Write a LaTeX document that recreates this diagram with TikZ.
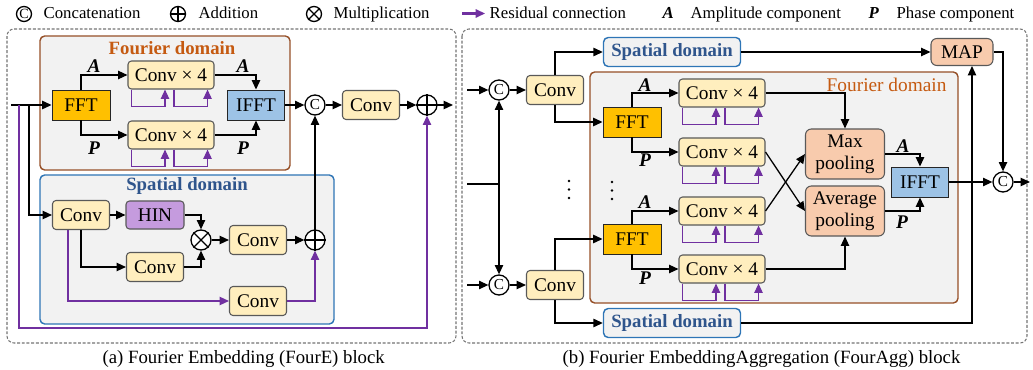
\documentclass[tikz,border=0pt]{standalone}
\usepackage{fontspec}
\setmainfont{Liberation Serif}
\usepackage{xcolor}
\usetikzlibrary{arrows.meta,positioning,calc}

\definecolor{convfill}{RGB}{255,238,190}
\definecolor{fftfill}{RGB}{255,192,0}
\definecolor{ifftfill}{RGB}{157,195,230}
\definecolor{hinfill}{RGB}{197,155,222}
\definecolor{poolfill}{RGB}{248,203,173}
\definecolor{domfill}{RGB}{242,242,242}
\definecolor{fourline}{RGB}{150,80,40}
\definecolor{fourtext}{RGB}{197,90,17}
\definecolor{spatline}{RGB}{46,117,182}
\definecolor{spattext}{RGB}{47,85,140}
\definecolor{resid}{RGB}{112,48,160}
\definecolor{boxline}{RGB}{89,89,89}

\newcommand{\compA}{\textbf{\textit{A}}}
\newcommand{\compP}{\textbf{\textit{P}}}

\begin{document}
\begin{tikzpicture}[x=0.03cm,y=-0.03cm,line width=1.1pt,
  font=\fontsize{16.5}{19}\selectfont,
  arr/.style={-{Stealth[length=2.8mm,width=2.5mm,inset=0pt]}},
  res/.style={arr,draw=resid},
  blk/.style={draw=boxline,rounded corners=3pt,inner sep=0pt,line width=0.9pt},
  conv/.style={blk,fill=convfill,minimum width=1.71cm,minimum height=0.87cm},
  convx/.style={blk,fill=convfill,minimum width=2.58cm,minimum height=0.84cm},
  hinbox/.style={blk,fill=hinfill,minimum width=1.74cm,minimum height=0.84cm},
  pool/.style={blk,fill=poolfill,rounded corners=5pt,align=center,minimum width=2.37cm,minimum height=1.5cm},
  fftbox/.style={draw=black!85,line width=0.8pt,fill=fftfill,inner sep=0pt,minimum width=1.74cm,minimum height=0.9cm},
  ifftbox/.style={fftbox,fill=ifftfill,minimum width=1.71cm},
  op/.style={draw,circle,fill=white,inner sep=0pt,minimum size=0.6cm,font=\fontsize{13}{13}\selectfont},
  lgop/.style={op,minimum size=0.45cm,font=\fontsize{12}{12}\selectfont},
  lgtxt/.style={anchor=base west,inner sep=0pt,font=\fontsize{14.3}{17}\selectfont},
  fdom/.style={draw=fourline,fill=domfill,line width=1.2pt,rounded corners=4pt},
  sdom/.style={draw=spatline,fill=domfill,line width=1.2pt,rounded corners=4pt},
  sdomnode/.style={sdom,inner sep=0pt,minimum width=4.11cm,minimum height=0.87cm,text=spattext,font=\fontsize{16}{19}\selectfont\bfseries},
  outer/.style={draw=black!55,dash pattern=on 2.5pt off 1.5pt,line width=0.9pt,rounded corners=6pt},
  comp/.style={inner sep=1pt}]
  \useasboundingbox (0,0) rectangle (1033,370);

  % legend
  \node[lgop] (lgC) at (24,14) {C};
  \node[lgtxt] (lgCt) at (43,18.5) {Concatenation};
  \node[lgop] (lgAdd) at (178,14) {};
  \draw (lgAdd.north) -- (lgAdd.south) (lgAdd.east) -- (lgAdd.west);
  \node[lgtxt] (lgAddt) at (198,18.5) {Addition};
  \node[lgop] (lgMul) at (314,14) {};
  \draw (lgMul.north east) -- (lgMul.south west) (lgMul.north west) -- (lgMul.south east);
  \node[lgtxt] (lgMult) at (333,18.5) {Multiplication};
  \coordinate (lgR0) at (462,13.5);
  \coordinate (lgR1) at (485,13.5);
  \draw[res,line width=1.8pt] (lgR0) -- (lgR1);
  \node[lgtxt] (lgRt) at (489,18.5) {Residual connection};
  \node[lgtxt] (lgA) at (662,18.5) {\compA};
  \node[lgtxt] (lgAt) at (690,18.5) {Amplitude component};
  \node[lgtxt] (lgP) at (868,18.5) {\compP};
  \node[lgtxt] (lgPt) at (896,18.5) {Phase component};

  \draw[outer] (7,29) rectangle (456,343);
  \draw[outer] (462,29) rectangle (1027,343);

  % (a) FourE block
  \draw[fdom] (40,36) rectangle (290,170);
  \node[text=fourtext,font=\fontsize{16}{19}\selectfont\bfseries] (fdA) at (172,48) {Fourier domain};
  \draw[sdom] (40,175) rectangle (334,324);
  \node[text=spattext,font=\fontsize{16}{19}\selectfont\bfseries] (sdA) at (187,186) {Spatial domain};

  \node[fftbox] (fftA) at (81,105) {FFT};
  \node[convx] (cvA1) at (171,75) {Conv × 4};
  \node[convx] (cvA2) at (171,135) {Conv × 4};
  \node[ifftbox] (ifftA) at (256,105) {IFFT};
  \node[op] (catA) at (315,105) {C};
  \node[conv] (convA) at (371,105) {Conv};
  \node[op] (addA) at (427,105) {};
  \draw (addA.north) -- (addA.south) (addA.east) -- (addA.west);
  \coordinate (inA) at (11,105);
  \coordinate (brR) at (19,105);
  \coordinate (brA) at (29,105);
  \coordinate (outA) at (453,105);

  \node[conv] (sc1) at (81,215) {Conv};
  \node[hinbox] (hin) at (155,215) {HIN};
  \node[op] (mulA) at (201,240) {};
  \draw (mulA.north east) -- (mulA.south west) (mulA.north west) -- (mulA.south east);
  \node[conv] (sc2) at (258,240) {Conv};
  \node[op] (addS) at (315,240) {};
  \draw (addS.north) -- (addS.south) (addS.east) -- (addS.west);
  \node[conv] (sc3) at (155,267) {Conv};
  \node[conv] (sc4) at (258,301) {Conv};

  \draw[arr] (inA) -- (fftA);
  \draw[arr] (fftA) |- (cvA1);
  \draw[arr] (fftA) |- (cvA2);
  \draw[arr] (cvA1) -| (ifftA);
  \draw[arr] (cvA2) -| (ifftA);
  \node[comp] (aA1) at (94,66) {\compA};
  \node[comp] (pA1) at (94,148) {\compP};
  \node[comp] (aA2) at (243,66) {\compA};
  \node[comp] (pA2) at (243,148) {\compP};
  \draw[arr] (ifftA) -- (catA);
  \draw[arr] (catA) -- (convA);
  \draw[arr] (convA) -- (addA);
  \draw[arr] (addA) -- (outA);

  \draw[arr] (brA) |- (sc1);
  \draw[arr] (sc1) -- (hin);
  \draw[arr] (hin) -| (mulA);
  \draw[arr] (sc1) |- (sc3);
  \draw[arr] (sc3) -| (mulA);
  \draw[arr] (mulA) -- (sc2);
  \draw[arr] (sc2) -- (addS);
  \draw[arr] (addS) -- (catA);
  \draw[res] ($(sc1.south)+(-13,0)$) |- (sc4);
  \draw[res] (sc4) -| (addS);
  \draw[res] (brR) -- (19,328) -| (addA);

  % (b) FourAgg block
  \draw[fdom] (590,72) rectangle (958,303);
  \node[text=fourtext,anchor=east] (fdB) at (951,85) {Fourier domain};

  \coordinate (inB) at (467,184);
  \coordinate (brB) at (499,184);
  \coordinate (inB1) at (467,90);
  \coordinate (inB2) at (467,285);
  \node[op] (catB1) at (499,90) {C};
  \node[op] (catB2) at (499,285) {C};
  \node[conv] (cB1) at (555,90) {Conv};
  \node[conv] (cB2) at (555,285) {Conv};
  \node[sdomnode] (sdB1) at (672,52) {Spatial domain};
  \node[sdomnode] (sdB2) at (672,323) {Spatial domain};
  \node[fftbox] (fftB1) at (632,122) {FFT};
  \node[fftbox] (fftB2) at (632,239) {FFT};
  \node[convx] (cvB1) at (722,93) {Conv × 4};
  \node[convx] (cvB2) at (722,152) {Conv × 4};
  \node[convx] (cvB3) at (722,211) {Conv × 4};
  \node[convx] (cvB4) at (722,269) {Conv × 4};
  \node[pool] (maxp) at (845,154) {Max\\pooling};
  \node[pool] (avgp) at (845,211) {Average\\pooling};
  \node[ifftbox] (ifftB) at (920,182) {IFFT};
  \node[pool,minimum width=1.86cm,minimum height=0.81cm] (mapB) at (962,52) {MAP};
  \node[op] (catB3) at (1003,182) {C};
  \coordinate (outB) at (1030,182);

  \draw (inB) -- (brB);
  \draw[arr] (brB) -- (catB1);
  \draw[arr] (brB) -- (catB2);
  \draw[arr] (inB1) -- (catB1);
  \draw[arr] (inB2) -- (catB2);
  \draw[arr] (catB1) -- (cB1);
  \draw[arr] (catB2) -- (cB2);
  \draw[arr] (cB1) |- (sdB1);
  \draw[arr] (cB1) |- (fftB1);
  \draw[arr] (cB2) |- (fftB2);
  \draw[arr] (cB2) |- (sdB2);
  \draw[arr] (fftB1) |- (cvB1);
  \draw[arr] (fftB1) |- (cvB2);
  \draw[arr] (fftB2) |- (cvB3);
  \draw[arr] (fftB2) |- (cvB4);
  \node[comp] (aB1) at (645,85) {\compA};
  \node[comp] (pB1) at (645,160) {\compP};
  \node[comp] (aB2) at (645,202) {\compA};
  \node[comp] (pB2) at (645,278) {\compP};
  \foreach \y in {181,189.5,198} {
    \fill (569,\y) circle (1.2pt);
    \fill (612,\y+1) circle (1.2pt);
  }
  \draw[arr] (cvB1) -| (maxp);
  \draw[arr] (cvB2.east) -- (avgp.west);
  \draw[arr] (cvB3.east) -- (maxp.west);
  \draw[arr] (cvB4) -| (avgp);
  \draw[arr] (maxp) -| (ifftB);
  \draw[arr] (avgp) -| (ifftB);
  \node[comp] (aB3) at (903,146) {\compA};
  \node[comp] (pB3) at (902,222) {\compP};
  \draw[arr] (ifftB) -- (catB3);
  \draw[arr] (catB3) -- (outB);
  \draw[arr] (sdB1) -- (mapB);
  \draw[arr] (mapB) -| (catB3);
  \draw[arr] (sdB2) -| ($(mapB.south)+(10,0)$);

  % residual loops
  \foreach \n in {cvA1,cvA2,cvB1,cvB2,cvB3,cvB4} {
    \draw[res] ($(\n.south west)+(4,0)$) -- ++(0,17) -| ($(\n.south)+(-6,0)$);
    \draw[res] ($(\n.south)+(3,0)$) -- ++(0,17) -| ($(\n.south east)+(-7,0)$);
  }

  \node[anchor=base west,inner sep=0pt,font=\fontsize{16}{19}\selectfont] (capA) at (102,363) {(a) Fourier Embedding (FourE) block};
  \node[anchor=base west,inner sep=0pt,font=\fontsize{16}{19}\selectfont] (capB) at (562,363) {(b) Fourier EmbeddingAggregation (FourAgg) block};
\end{tikzpicture}
\end{document}
